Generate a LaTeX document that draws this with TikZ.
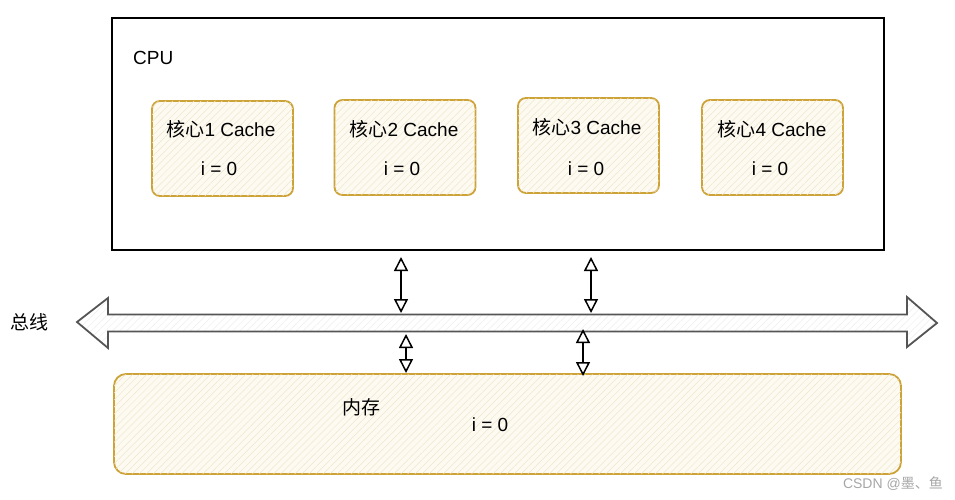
\documentclass[tikz,border=0pt]{standalone}
\usepackage{fontspec}
\setmainfont{Liberation Sans}
\newfontfamily\cjk{Noto Sans CJK SC}
\usetikzlibrary{arrows.meta,patterns.meta}
\definecolor{gold}{RGB}{205,162,55}
\definecolor{cream}{RGB}{253,250,242}
\definecolor{hatch}{RGB}{240,230,205}
\definecolor{busgray}{RGB}{85,85,85}
\definecolor{bushatch}{RGB}{238,238,238}
\begin{document}
\begin{tikzpicture}[x=1pt,y=-1pt,
  corebox/.style={draw=gold, line width=1.8pt, rounded corners=8pt, fill=cream,
    postaction={pattern={Lines[angle=45,distance=5pt,line width=0.5pt]}, pattern color=hatch},
    minimum width=141pt, minimum height=95pt, inner sep=0pt},
  txt/.style={font=\fontsize{19}{22}\selectfont, inner sep=0pt},
  biarrow/.style={{Triangle[open,length=14pt,width=14pt]}-{Triangle[open,length=14pt,width=14pt]}, line width=1.5pt, black}]
\useasboundingbox (0,0) rectangle (955,500);
% CPU
\node[draw=black, line width=1.4pt, minimum width=772pt, minimum height=232pt, inner sep=0pt] (cpu) at (498,134) {};
\node[txt, anchor=west] (cputxt) at (133,58) {CPU};
% cores
\node[corebox] (c1) at (222.5,148.5) {};
\node[corebox] (c2) at (405,147.5) {};
\node[corebox] (c3) at (588.5,145.5) {};
\node[corebox] (c4) at (772.5,147.5) {};
\node[txt] (t1) at (221,129) {{\cjk 核心}1 Cache};
\node[txt] (v1) at (219,169) {i = 0};
\node[txt] (t2) at (404,129) {{\cjk 核心}2 Cache};
\node[txt] (v2) at (402,169) {i = 0};
\node[txt] (t3) at (587,127) {{\cjk 核心}3 Cache};
\node[txt] (v3) at (586,169) {i = 0};
\node[txt] (t4) at (772,129) {{\cjk 核心}4 Cache};
\node[txt] (v4) at (770,169) {i = 0};
% bus
\fill[white, postaction={pattern={Lines[angle=45,distance=5pt,line width=0.5pt]}, pattern color=bushatch}]
  (77,322) -- (108,298) -- (108,314.5) -- (907,314.5) -- (907,297) -- (937,323)
  -- (907,347) -- (907,331.5) -- (108,331.5) -- (108,348) -- cycle;
\draw[busgray, line width=1.8pt, line join=miter]
  (77,322) -- (108,298) -- (108,314.5) -- (907,314.5) -- (907,297) -- (937,323)
  -- (907,347) -- (907,331.5) -- (108,331.5) -- (108,348) -- cycle;
\node[txt, anchor=west] (bustxt) at (10,322) {\cjk 总线};
% memory
\node[draw=gold, line width=1.8pt, rounded corners=12pt, fill=cream,
  postaction={pattern={Lines[angle=45,distance=5pt,line width=0.5pt]}, pattern color=hatch},
  minimum width=787pt, minimum height=100pt, inner sep=0pt] (mem) at (507.5,424) {};
\node[txt] (memtxt) at (361,407) {\cjk 内存};
\node[txt] (memv) at (490,425) {i = 0};
% connectors
\coordinate (a1t) at (401,257);
\coordinate (a1b) at (401,313);
\coordinate (a2t) at (591,257);
\coordinate (a2b) at (591,313);
\coordinate (b1t) at (406,334);
\coordinate (b1b) at (406,373);
\coordinate (b2t) at (583,329);
\coordinate (b2b) at (583,376);
\draw[biarrow] (a1t) -- (a1b);
\draw[biarrow] (a2t) -- (a2b);
\draw[biarrow] (b1t) -- (b1b);
\draw[biarrow] (b2t) -- (b2b);
% watermark
\node[font=\fontsize{14}{16}\selectfont, text=gray!70, anchor=east, inner sep=0pt] (wm) at (943,484) {CSDN @{\cjk 墨、鱼}};
\end{tikzpicture}
\end{document}
